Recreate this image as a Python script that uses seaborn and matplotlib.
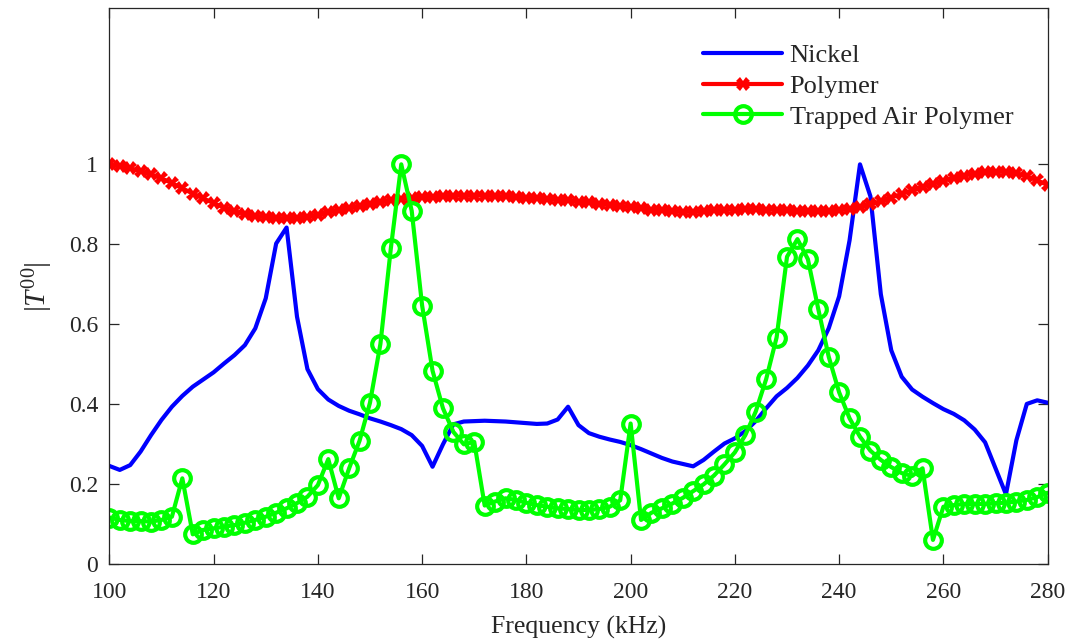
import numpy as np
import pandas as pd
import matplotlib
matplotlib.use("Agg")
import matplotlib.pyplot as plt
import seaborn as sns

freq = list(range(100, 282, 2))

nickel = [0.246, 0.236, 0.248, 0.282, 0.323, 0.361, 0.394, 0.421, 0.444, 0.462,
          0.480, 0.502, 0.523, 0.548, 0.590, 0.665, 0.802, 0.842, 0.619, 0.488,
          0.438, 0.412, 0.396, 0.384, 0.375, 0.365, 0.357, 0.348, 0.338, 0.323,
          0.296, 0.244, 0.300, 0.350, 0.357, 0.358, 0.359, 0.358, 0.357, 0.355,
          0.353, 0.351, 0.352, 0.362, 0.394, 0.348, 0.328, 0.319, 0.312, 0.306,
          0.298, 0.288, 0.277, 0.266, 0.257, 0.251, 0.245, 0.261, 0.282, 0.302,
          0.315, 0.333, 0.358, 0.390, 0.420, 0.441, 0.466, 0.497, 0.535, 0.590,
          0.670, 0.810, 1.000, 0.920, 0.675, 0.535, 0.469, 0.437, 0.419, 0.403,
          0.388, 0.376, 0.360, 0.337, 0.305, 0.240, 0.175, 0.310, 0.401, 0.410,
          0.404]

polymer = [1.000, 0.995, 0.990, 0.983, 0.975, 0.965, 0.953, 0.940, 0.927, 0.915,
           0.903, 0.892, 0.883, 0.876, 0.871, 0.868, 0.866, 0.865, 0.866, 0.869,
           0.874, 0.880, 0.886, 0.891, 0.896, 0.901, 0.906, 0.910, 0.914, 0.916,
           0.918, 0.919, 0.920, 0.921, 0.922, 0.922, 0.922, 0.921, 0.920, 0.918,
           0.917, 0.915, 0.914, 0.912, 0.910, 0.907, 0.905, 0.902, 0.899, 0.896,
           0.893, 0.890, 0.887, 0.885, 0.883, 0.882, 0.882, 0.883, 0.885, 0.886,
           0.887, 0.888, 0.888, 0.887, 0.886, 0.885, 0.884, 0.883, 0.883, 0.884,
           0.886, 0.889, 0.894, 0.900, 0.908, 0.917, 0.926, 0.935, 0.944, 0.952,
           0.959, 0.966, 0.972, 0.977, 0.980, 0.982, 0.982, 0.978, 0.970, 0.960,
           0.948]

trapped_air = [0.117, 0.111, 0.108, 0.108, 0.107, 0.111, 0.119, 0.215, 0.075, 0.086,
               0.090, 0.094, 0.098, 0.104, 0.111, 0.119, 0.129, 0.140, 0.153, 0.169,
               0.198, 0.263, 0.165, 0.240, 0.309, 0.404, 0.551, 0.790, 1.000, 0.884,
               0.647, 0.484, 0.390, 0.331, 0.300, 0.306, 0.147, 0.157, 0.165, 0.161,
               0.154, 0.148, 0.144, 0.140, 0.138, 0.136, 0.136, 0.138, 0.144, 0.160,
               0.352, 0.111, 0.129, 0.140, 0.152, 0.166, 0.183, 0.200, 0.222, 0.250,
               0.280, 0.323, 0.382, 0.463, 0.567, 0.769, 0.813, 0.763, 0.638, 0.519,
               0.430, 0.365, 0.319, 0.284, 0.261, 0.243, 0.228, 0.221, 0.240, 0.061,
               0.144, 0.148, 0.151, 0.151, 0.151, 0.153, 0.154, 0.157, 0.161, 0.168,
               0.179]

labels = ["Nickel", "Polymer", "Trapped Air Polymer"]
yticks = [0, 0.2, 0.4, 0.6, 0.8, 1]
xticks = [100, 120, 140, 160, 180, 200, 220, 240, 260, 280]

sns.set_style("white")
plt.rcParams['font.family'] = ['Liberation Serif', 'DejaVu Serif']
plt.rcParams['mathtext.fontset'] = 'custom'
plt.rcParams['mathtext.rm'] = 'Liberation Serif'
plt.rcParams['mathtext.it'] = 'Liberation Serif:italic'

fig = plt.figure(figsize=(10.71, 6.42), dpi=100)
ax = fig.add_axes([0.1021, 0.121, 0.8761, 0.866])

sns.lineplot(x=freq, y=nickel, ax=ax, color="#0000ff", linewidth=3.0,
             label=labels[0])
sns.lineplot(x=freq, y=polymer, ax=ax, color="#ff0000", linewidth=3.0,
             marker="X", markersize=10, markeredgewidth=0, label=labels[1])
sns.lineplot(x=freq, y=trapped_air, ax=ax, color="#00ff00", linewidth=3.0,
             marker="o", markersize=12, markerfacecolor="none",
             markeredgecolor="#00ff00", markeredgewidth=3.0, label=labels[2])

ax.set_xlim(100, 280)
ax.set_ylim(0, 1.39)
ax.set_xticks(xticks)
ax.set_xticklabels([str(v) for v in xticks])
ax.set_yticks(yticks)
ax.set_yticklabels(["0", "0.2", "0.4", "0.6", "0.8", "1"])
ax.tick_params(direction="in", length=7, width=0.9, colors="#262626",
               labelsize=17, bottom=True, left=True, top=True, right=True)
ax.tick_params(axis="x", pad=13)
ax.tick_params(axis="y", pad=8)
for s in ax.spines.values():
    s.set_color("#262626")
    s.set_linewidth(0.9)

ax.set_xlabel("Frequency (kHz)", fontsize=18.5, color="#262626", labelpad=9)
ax.set_ylabel(r"$|T^{00}|$", fontsize=21, color="#262626", labelpad=10)

leg = ax.legend(loc="upper left", bbox_to_anchor=(0.633, 0.936), frameon=False,
                fontsize=19, handlelength=3.0, handletextpad=0.27,
                labelspacing=0.27, borderaxespad=0.0, borderpad=0.0)

fig.savefig("out.png", dpi=100)
